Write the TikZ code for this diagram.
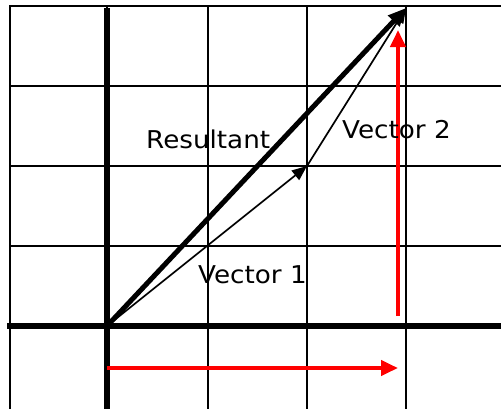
\documentclass[tikz,border=0pt]{standalone}
\usepackage{fontspec}
\setmainfont{DejaVu Sans}[FakeStretch=1.07]
\usetikzlibrary{arrows.meta}
\begin{document}
\begin{tikzpicture}[x=1pt,y=-1pt,
  gridline/.style={line width=2pt,black},
  axisline/.style={line width=5.5pt,black},
  redvec/.style={line width=4pt,red,-{Triangle[length=17pt,width=15pt]}},
  thinvec/.style={line width=1.7pt,black,-{Triangle[length=15pt,width=12pt]}},
  resvec/.style={line width=5pt,black,-{Triangle[length=18pt,width=15pt]}},
  lbl/.style={font=\fontsize{24.5}{28}\selectfont,inner sep=0pt,anchor=base west}]
\useasboundingbox (0,0) rectangle (501,408);
\clip (0,0) rectangle (501,408);
\fill[white] (0,0) rectangle (501,408);
% grid
\foreach \x in {10,107,208,307,406} \draw[gridline] (\x,6) -- (\x,410);
\foreach \y in {6,86,166,246,326} \draw[gridline] (9,\y) -- (503,\y);
% axes
\draw[axisline] (7,326) -- (503,326);
\draw[axisline] (107,8) -- (107,410);
% points
\coordinate (O) at (107,326);
\coordinate (A) at (307,166);
\coordinate (B) at (406,8);
\coordinate (H0) at (107,368);
\coordinate (H1) at (398,368);
\coordinate (V0) at (398,316);
\coordinate (V1) at (398,30);
% red components
\draw[redvec] (H0) -- (H1);
\draw[redvec] (V0) -- (V1);
% vectors
\draw[thinvec] (O) -- (A);
\draw[thinvec] (A) -- (B);
\draw[resvec] (O) -- (B);
% labels
\node[lbl] (lres) at (146,148) {Resultant};
\node[lbl] (lv2) at (342,138) {Vector 2};
\node[lbl] (lv1) at (198,283) {Vector 1};
\end{tikzpicture}
\end{document}
